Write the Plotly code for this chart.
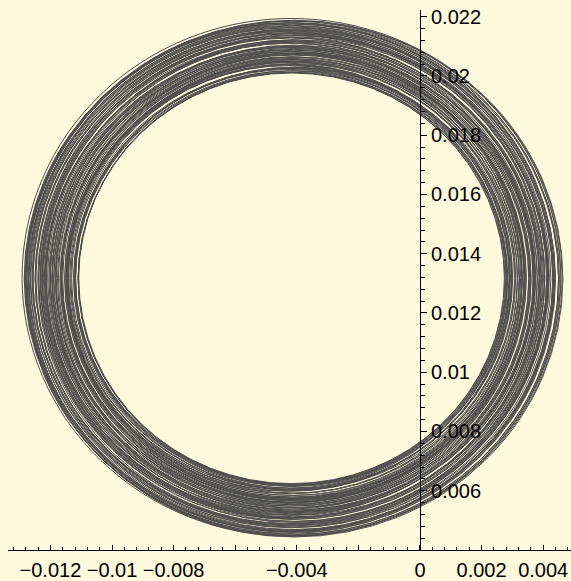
import plotly.graph_objects as go

# Orbit loops (values in units of 1e-3)
center_x = -4.16
center_y = 13.17
radii = [7.42, 8.11, 6.95, 7.88, 8.53, 7.15, 7.67, 8.34, 7.03, 8.72,
         7.51, 7.96, 8.20, 7.28, 8.61, 6.99, 7.74, 8.43, 7.36, 8.05,
         7.58, 8.66, 7.10, 7.91, 8.27, 7.47, 8.48, 7.21, 7.83, 8.14,
         6.93, 7.62, 8.39, 7.31, 8.57, 7.79, 8.01, 7.06, 8.69, 7.44,
         7.97, 8.23, 7.18, 7.70, 8.45, 7.39, 8.09, 6.97, 8.62, 7.55,
         7.86, 8.31, 7.25, 8.74, 7.63, 7.93, 7.12, 8.36, 7.49, 8.17,
         7.00, 8.51, 7.77, 7.33, 8.04, 8.59, 7.60, 7.19, 8.28, 7.85,
         6.96, 8.41, 7.53, 8.12, 7.40, 8.67, 7.72, 7.08, 8.25, 7.99,
         7.29, 8.55, 7.65, 8.07, 7.45, 8.70, 7.14, 7.81, 8.33, 7.57]
shift_x = [0.04, -0.07, 0.01, 0.09, -0.03, -0.10, 0.06, 0.00, -0.05, 0.08,
           0.03, -0.08, 0.10, -0.01, 0.05, -0.04, 0.09, -0.07, 0.02, 0.06,
           -0.09, 0.03, 0.07, -0.02, -0.06, 0.10, 0.00, -0.08, 0.04, 0.07,
           -0.01, -0.07, 0.08, 0.02, -0.04, 0.05, -0.10, 0.01, 0.09, -0.05,
           0.00, 0.07, -0.03, -0.09, 0.04, 0.08, -0.04, 0.03, -0.07, 0.06,
           0.01, -0.10, 0.07, -0.02, 0.10, -0.06, 0.03, -0.08, 0.05, 0.00,
           0.08, -0.03, -0.07, 0.06, 0.02, -0.05, 0.09, -0.09, 0.03, 0.07,
           -0.06, 0.00, 0.04, -0.10, 0.08, -0.01, 0.05, -0.07, 0.02, 0.10,
           -0.04, 0.01, -0.08, 0.07, -0.02, 0.04, 0.09, -0.05, 0.00, -0.01]
shift_y = [-0.01, 0.02, 0.00, -0.03, 0.01, 0.03, -0.02, 0.01, 0.02, -0.01,
           0.03, -0.02, 0.00, 0.02, -0.03, 0.01, -0.01, 0.03, -0.02, 0.00,
           0.02, -0.03, 0.01, 0.03, -0.01, 0.00, -0.02, 0.02, -0.03, 0.01,
           0.00, 0.03, -0.01, -0.02, 0.02, -0.03, 0.01, 0.03, 0.00, -0.02,
           0.02, -0.01, 0.03, 0.01, -0.03, 0.00, 0.02, -0.02, 0.01, -0.01,
           -0.03, 0.02, 0.00, 0.03, -0.02, 0.01, -0.01, 0.02, -0.03, 0.03,
           0.01, -0.02, 0.02, 0.00, -0.03, 0.03, -0.01, 0.01, -0.02, 0.02,
           0.00, -0.01, 0.03, 0.02, -0.03, 0.01, -0.02, 0.00, 0.03, -0.01,
           0.02, -0.03, 0.01, -0.02, 0.03, 0.00, -0.01, 0.02, -0.03, 0.01]
unit = 1e-3

x_tickvals = [-0.012, -0.010, -0.008, -0.006, -0.004, -0.002, 0.0, 0.002, 0.004]
x_ticktext = ["\u22120.012", "\u22120.01", "\u22120.008", "", "\u22120.004", "", "0", "0.002", "0.004"]
y_tickvals = [0.006, 0.008, 0.010, 0.012, 0.014, 0.016, 0.018, 0.020, 0.022]
y_ticktext = ["0.006", "0.008", "0.01", "0.012", "0.014", "0.016", "0.018", "0.02", "0.022"]

BG = "#FEF8DC"
LINE = "#4E4E4E"
x_range = [-0.013377, 0.004903]
y_range = [0.004, 0.022226]

fig = go.Figure()
fig.add_trace(go.Scatter(x=[None], y=[None], mode="lines", showlegend=False, hoverinfo="skip"))

shapes = []
for r, dx, dy in zip(radii, shift_x, shift_y):
    cx = (center_x + dx) * unit
    cy = (center_y + dy) * unit
    rr = r * unit
    shapes.append(dict(type="circle", xref="x", yref="y",
                       x0=cx - rr, x1=cx + rr, y0=cy - rr, y1=cy + rr,
                       line=dict(color=LINE, width=1), layer="below"))

font = dict(family="Liberation Sans, Arial, sans-serif", size=20, color="black")

fig.update_layout(
    width=571, height=581,
    margin=dict(l=8, r=0, t=10, b=28, pad=0),
    paper_bgcolor=BG, plot_bgcolor=BG,
    showlegend=False,
    shapes=shapes,
    xaxis=dict(range=x_range, showgrid=False, zeroline=False,
               showline=True, linecolor="black", linewidth=1,
               tickmode="array", tickvals=x_tickvals, ticktext=x_ticktext,
               ticks="inside", ticklen=5, tickcolor="black", tickwidth=1,
               tickfont=font, ticklabelstandoff=2,
               minor=dict(tickmode="linear", tick0=0, dtick=0.0004,
                          ticks="inside", ticklen=3, tickcolor="black")),
    yaxis=dict(range=y_range, showgrid=False, zeroline=False,
               anchor="free", side="right",
               position=(0 - x_range[0]) / (x_range[1] - x_range[0]),
               showline=True, linecolor="black", linewidth=1,
               tickmode="array", tickvals=y_tickvals, ticktext=y_ticktext,
               ticks="outside", ticklen=6, tickcolor="black", tickwidth=1,
               tickfont=font,
               minor=dict(tickmode="linear", tick0=0, dtick=0.0004,
                          ticks="outside", ticklen=4, tickcolor="black")),
)

fig.write_html("out.html")
